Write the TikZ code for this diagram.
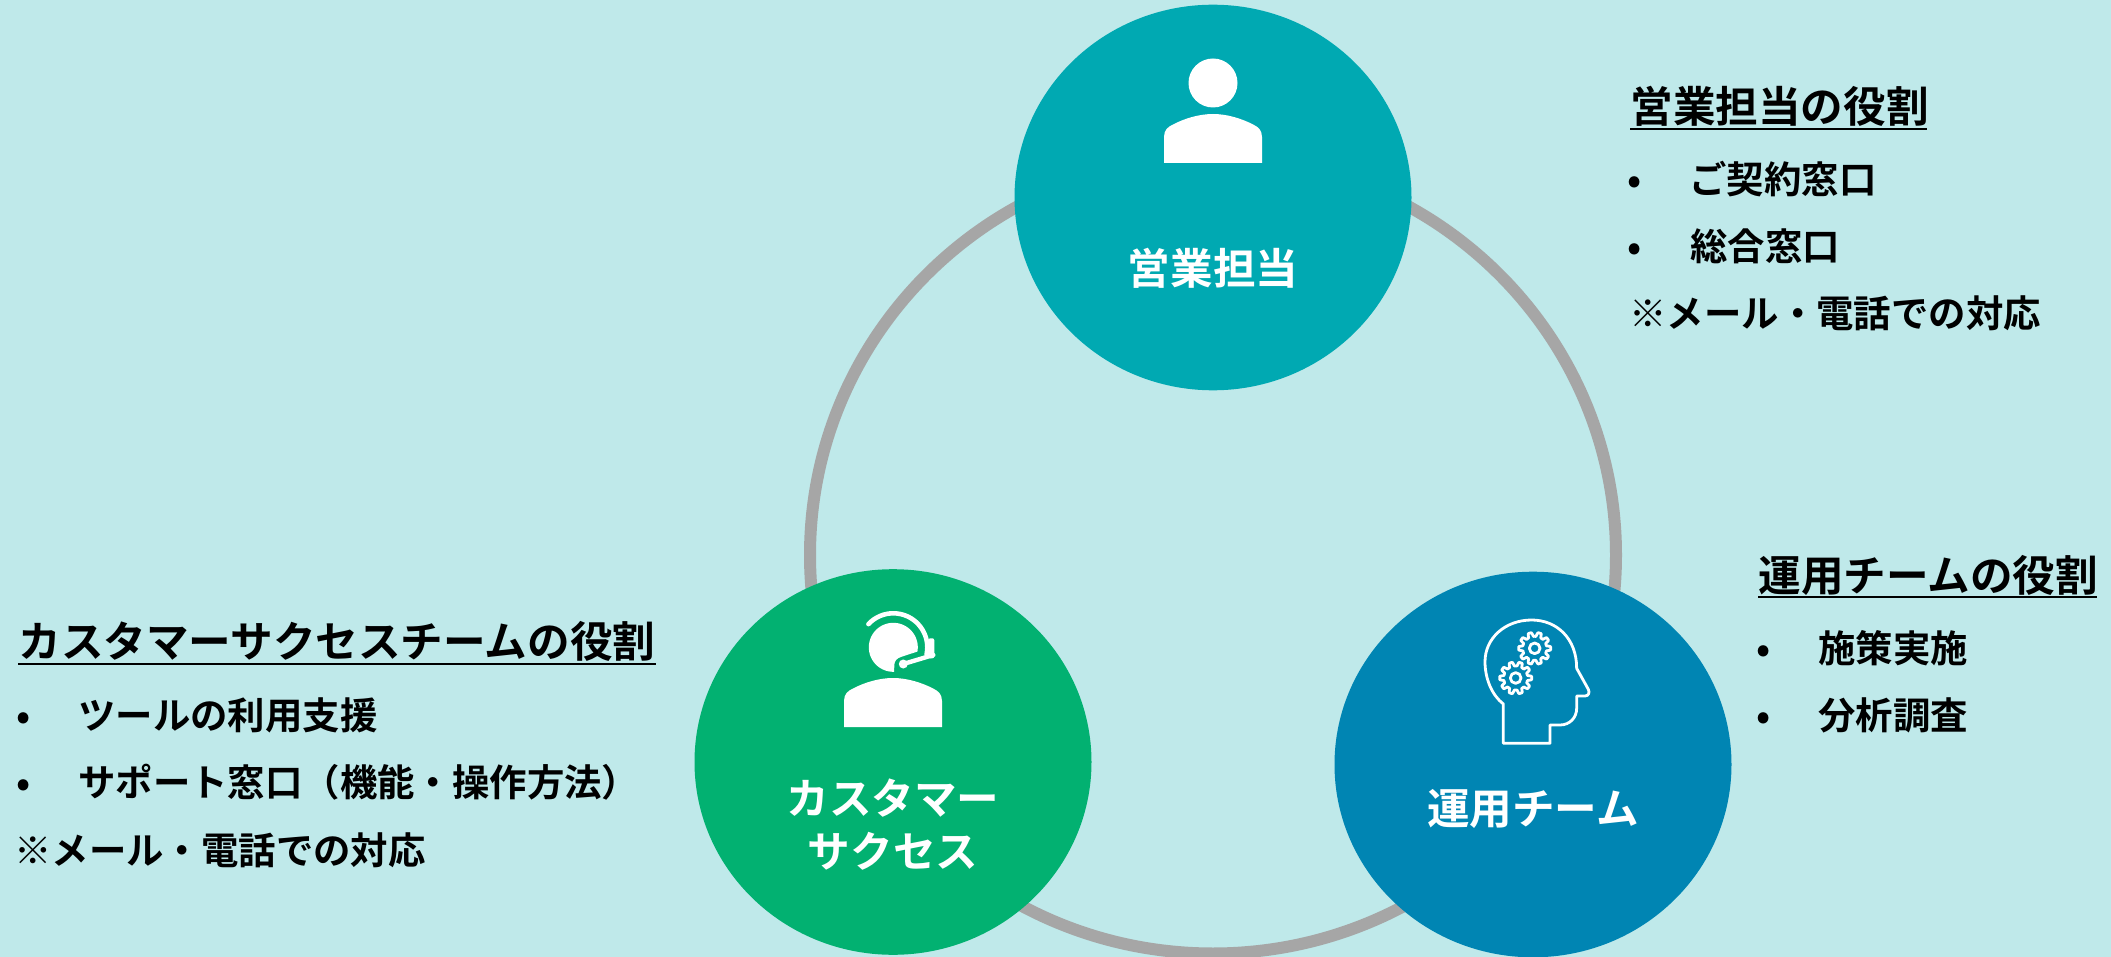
\documentclass[tikz,border=0pt]{standalone}
\usepackage{fontspec}
\usetikzlibrary{shapes.geometric}
\setmainfont{Noto Sans CJK JP}[BoldFont={* Bold}]
\definecolor{bgc}{HTML}{BFE9EA}
\definecolor{salesc}{HTML}{00A9B2}
\definecolor{csc}{HTML}{02B171}
\definecolor{opsc}{HTML}{0085B3}
\definecolor{ringc}{HTML}{A6A6A6}
\tikzset{
  role/.style={ellipse,inner sep=0pt,outer sep=0pt,minimum width=198.5pt,minimum height=192.8pt,fill=#1},
  ringshape/.style={ellipse,inner sep=0pt,outer sep=0pt,minimum width=403pt,minimum height=398.5pt,draw=ringc,line width=6pt},
  lbl/.style={text=white,font=\fontsize{21.3pt}{21.3pt}\selectfont\bfseries,anchor=center,inner sep=0pt},
  ttl/.style={text=black,font=\fontsize{21.3pt}{21.3pt}\selectfont\bfseries,anchor=base west,inner sep=0pt},
  bdy/.style={text=black,font=\fontsize{18.7pt}{18.7pt}\selectfont\bfseries,anchor=base west,inner sep=0pt},
  uline/.style={line width=1.3pt,black},
  iconline/.style={draw=white,line width=1.4pt,line join=round,fill=none},
  x=0.5pt,y=-0.5pt
}
\newcommand{\gearat}[2]{%
  \draw[iconline] plot[domain=0:360,samples=181,smooth cycle] ({#1+(42+6*max(-1,min(1,2*cos(10*\x))))*cos(\x)},{#2+(42+6*max(-1,min(1,2*cos(10*\x))))*sin(\x)});
  \draw[iconline] (#1,#2) circle[radius=16];
}
\begin{document}
\begin{tikzpicture}
\useasboundingbox[fill=bgc] (0,0) rectangle (2111,957);
\node[ringshape] (ring) at (1213,555) {};
\node[role=salesc] (sales) at (1213,197.5) {};
\node[role=csc] (cs) at (893,762) {};
\node[role=opsc] (ops) at (1533,764.5) {};
% person icon
\fill[white] (1213,83) circle[radius=24.5];
\fill[white] (1164,163) -- (1164,137) .. controls (1164,130) and (1168,127) .. (1172,125) .. controls (1185,118) and (1200,114) .. (1213,114) .. controls (1226,114) and (1241,118) .. (1254,125) .. controls (1258,127) and (1262,130) .. (1262,137) -- (1262,163) -- cycle;
% headset icon
\fill[white] (844,727) -- (844,701) .. controls (844,694) and (848,691) .. (852,689) .. controls (865,682) and (880,678) .. (893,678) .. controls (906,678) and (921,682) .. (934,689) .. controls (938,691) and (942,694) .. (942,701) -- (942,727) -- cycle;
\fill[white] plot[domain=88:370,samples=60] ({893.3+24.5*cos(\x)},{647.3+24.5*sin(\x)}) -- (901.7,656.7) .. controls (897,658) and (894.3,661) .. (894.3,665) -- cycle;
\draw[white,line width=2.3pt,line cap=round] plot[domain=223:372,samples=50] ({893.3+34*cos(\x)},{647.3+34*sin(\x)});
\fill[white,rounded corners=1pt] (928.3,638.3) rectangle (934.3,658.3);
\draw[white,line width=2.2pt,line cap=round] (903.3,664) -- (933.3,655);
\fill[white] (903.3,664) circle[radius=4.5];
% head with gears icon
\begin{scope}[shift={(1450,600)},x=0.16667pt,y=-0.16667pt]
\draw[iconline] (160,430) -- (160,312) .. controls (125,285) and (105,235) .. (105,185) .. controls (105,115) and (165,60) .. (245,60) .. controls (320,60) and (380,115) .. (380,205) -- (415,268) .. controls (420,278) and (415,288) .. (405,288) -- (380,288) -- (380,325) .. controls (380,352) and (360,375) .. (330,375) -- (300,375) -- (300,430) -- cycle;
\gearat{254}{145}
\gearat{197}{234}
\end{scope}
% circle labels
\node[lbl] (lsales) at (1213,268) {営業担当};
\node[lbl] (lcs1) at (893,798) {カスタマー};
\node[lbl] (lcs2) at (893,851) {サクセス};
\node[lbl] (lops) at (1533,809) {運用チーム};
% sales text
\node[ttl] (t1) at (1630,123) {営業担当の役割};
\draw[uline] (1630,129) -- (1927,129);
\node[bdy] (a1) at (1627,194) {•};
\node[bdy] (a2) at (1689,194) {ご契約窓口};
\node[bdy] (a3) at (1627,261) {•};
\node[bdy] (a4) at (1690,261) {総合窓口};
\node[bdy] (a5) at (1629,328) {※メール・電話での対応};
% ops text
\node[ttl] (t2) at (1758,591) {運用チームの役割};
\draw[uline] (1758,597) -- (2097,597);
\node[bdy] (b1) at (1756,662) {•};
\node[bdy] (b2) at (1818,662) {施策実施};
\node[bdy] (b3) at (1756,729) {•};
\node[bdy] (b4) at (1818,729) {分析調査};
% cs text
\node[ttl] (t3) at (18,657) {カスタマーサクセスチームの役割};
\draw[uline] (18,664) -- (656,664);
\node[bdy] (c1) at (16,729) {•};
\node[bdy] (c2) at (78,729) {ツールの利用支援};
\node[bdy] (c3) at (16,796) {•};
\node[bdy] (c4) at (78,796) {サポート窓口（機能・操作方法）};
\node[bdy] (c5) at (14,864) {※メール・電話での対応};
\end{tikzpicture}
\end{document}
